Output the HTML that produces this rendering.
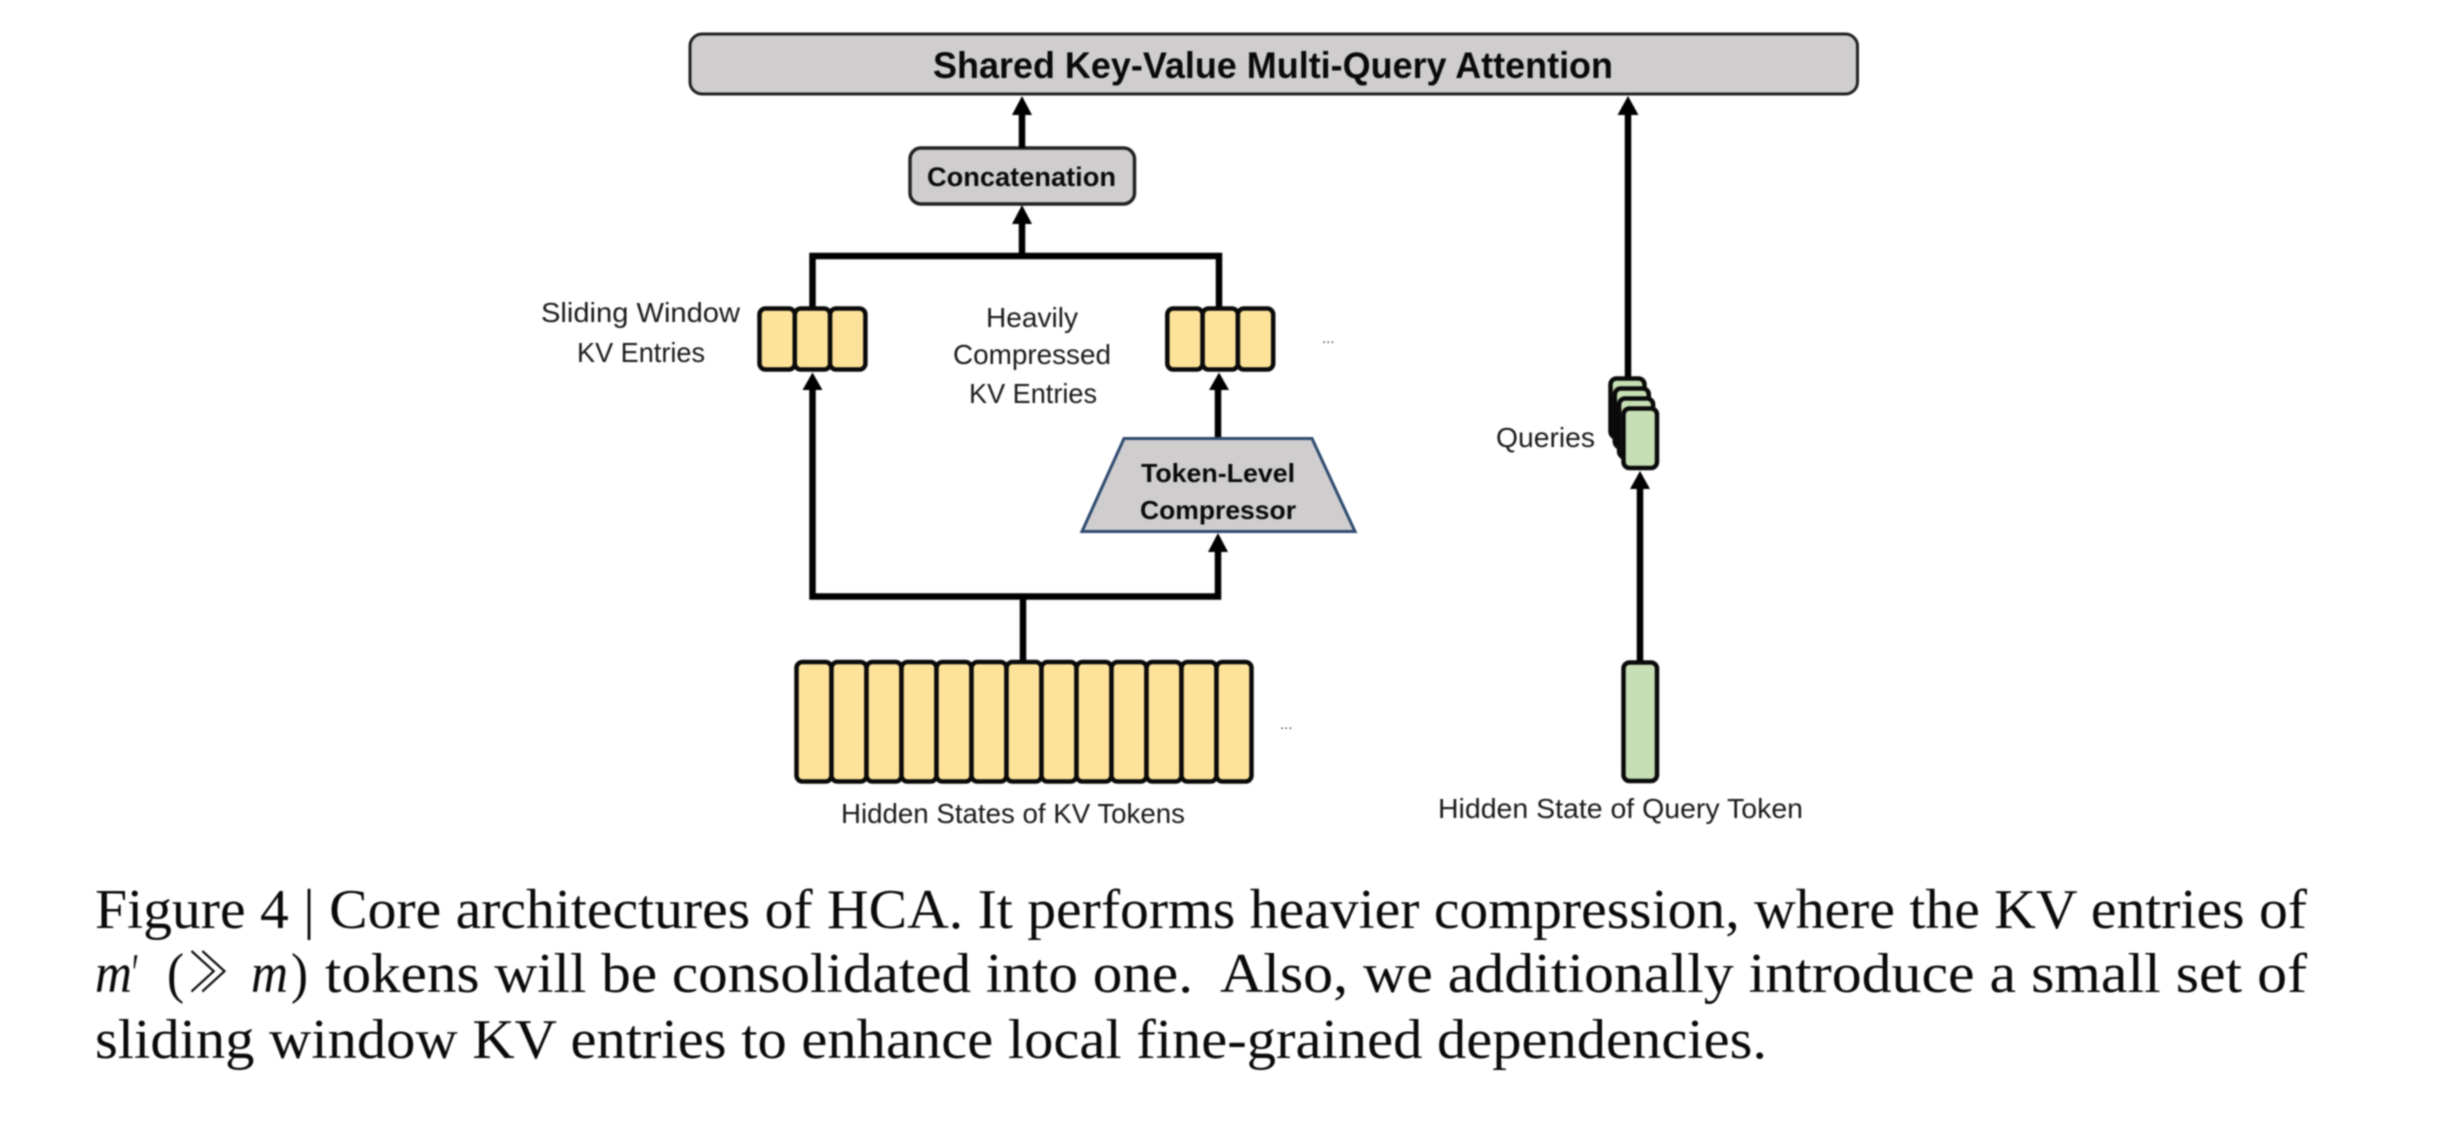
<!DOCTYPE html>
<html>
<head>
<meta charset="utf-8">
<style>
html,body{margin:0;padding:0;background:#fff;width:2446px;height:1132px;overflow:hidden}
svg{display:block;filter:blur(0.7px)}
.s{font-family:"Liberation Sans",sans-serif;fill:#1a1a1a;font-size:28px}
.b{font-family:"Liberation Sans",sans-serif;font-weight:bold;fill:#0a0a0a}
.c{font-family:"Liberation Serif",serif;fill:#0a0a0a;font-size:56px}
.y{fill:#fde39a;stroke:#0a0a0a;stroke-width:4.5}
.g{fill:#c6dfb4;stroke:#0a0a0a;stroke-width:4.5}
.l{fill:none;stroke:#000;stroke-width:6.5}
</style>
</head>
<body>
<svg width="2446" height="1132" viewBox="0 0 2446 1132" xmlns="http://www.w3.org/2000/svg">
<rect width="2446" height="1132" fill="#fff"/>

<!-- top box -->
<rect x="690" y="34" width="1167.5" height="60" rx="12" fill="#cfcdce" stroke="#222" stroke-width="3"/>
<text class="b" x="933" y="78" font-size="37" textLength="680" lengthAdjust="spacingAndGlyphs">Shared Key-Value Multi-Query Attention</text>

<!-- concat -->
<rect x="910" y="148" width="224.5" height="56" rx="11" fill="#cfcdce" stroke="#222" stroke-width="3.5"/>
<text class="b" x="927" y="186" font-size="27" textLength="189" lengthAdjust="spacingAndGlyphs">Concatenation</text>

<!-- connectors -->
<path class="l" d="M1022 148V110"/>
<polygon points="1022,96 1032,115 1012,115" fill="#000"/>
<path class="l" d="M1022 256V220"/>
<polygon points="1022,205 1032,224 1012,224" fill="#000"/>
<path class="l" d="M812.5 310V256H1219V310"/>

<path class="l" d="M812.5 385V596.5H1218V545"/>
<polygon points="812.5,372.5 822.5,390 802.5,390" fill="#000"/>
<polygon points="1218,533 1228,552 1208,552" fill="#000"/>
<path class="l" d="M1023 596.5V662"/>
<path class="l" d="M1218 385V440"/>
<polygon points="1219,372.5 1229,390 1209,390" fill="#000"/>

<!-- sliding window entries -->
<rect class="y" x="759.5" y="308.5" width="35.3" height="61" rx="6"/>
<rect class="y" x="794.8" y="308.5" width="35.3" height="61" rx="6"/>
<rect class="y" x="830.1" y="308.5" width="35.3" height="61" rx="6"/>

<!-- compressed entries -->
<rect class="y" x="1167.3" y="308.5" width="35.3" height="61" rx="6"/>
<rect class="y" x="1202.6" y="308.5" width="35.3" height="61" rx="6"/>
<rect class="y" x="1237.9" y="308.5" width="35.3" height="61" rx="6"/>
<text x="1322" y="343" font-family="Liberation Sans,sans-serif" font-size="15" fill="#444">...</text>

<!-- labels -->
<text class="s" x="541" y="322" textLength="199" lengthAdjust="spacingAndGlyphs">Sliding Window</text>
<text class="s" x="577" y="362" textLength="128" lengthAdjust="spacingAndGlyphs">KV Entries</text>
<text class="s" x="986" y="327" textLength="92" lengthAdjust="spacingAndGlyphs">Heavily</text>
<text class="s" x="953" y="364" textLength="158" lengthAdjust="spacingAndGlyphs">Compressed</text>
<text class="s" x="969" y="403" textLength="128" lengthAdjust="spacingAndGlyphs">KV Entries</text>

<!-- trapezoid -->
<polygon points="1124,438.5 1312,438.5 1355,531.5 1082,531.5" fill="#cfcdce" stroke="#2f4b70" stroke-width="3"/>
<text class="b" x="1141" y="482" font-size="26" textLength="154" lengthAdjust="spacingAndGlyphs">Token-Level</text>
<text class="b" x="1140" y="519" font-size="26" textLength="156" lengthAdjust="spacingAndGlyphs">Compressor</text>

<!-- token row -->
<rect class="y" x="796.5" y="662" width="35" height="119.5" rx="6"/>
<rect class="y" x="831.5" y="662" width="35" height="119.5" rx="6"/>
<rect class="y" x="866.5" y="662" width="35" height="119.5" rx="6"/>
<rect class="y" x="901.5" y="662" width="35" height="119.5" rx="6"/>
<rect class="y" x="936.5" y="662" width="35" height="119.5" rx="6"/>
<rect class="y" x="971.5" y="662" width="35" height="119.5" rx="6"/>
<rect class="y" x="1006.5" y="662" width="35" height="119.5" rx="6"/>
<rect class="y" x="1041.5" y="662" width="35" height="119.5" rx="6"/>
<rect class="y" x="1076.5" y="662" width="35" height="119.5" rx="6"/>
<rect class="y" x="1111.5" y="662" width="35" height="119.5" rx="6"/>
<rect class="y" x="1146.5" y="662" width="35" height="119.5" rx="6"/>
<rect class="y" x="1181.5" y="662" width="35" height="119.5" rx="6"/>
<rect class="y" x="1216.5" y="662" width="35" height="119.5" rx="6"/>
<text x="1280" y="729" font-family="Liberation Sans,sans-serif" font-size="15" fill="#444">...</text>
<text class="s" x="841" y="823" textLength="344" lengthAdjust="spacingAndGlyphs">Hidden States of KV Tokens</text>

<!-- query side -->
<path class="l" d="M1628 378V108" stroke-width="5.5"/>
<polygon points="1628,96 1638.5,115 1617.5,115" fill="#000"/>
<rect class="g" x="1610.5" y="378.5" width="34" height="59" rx="6"/>
<rect class="g" x="1614.8" y="388.5" width="34" height="59" rx="6"/>
<rect class="g" x="1619.1" y="398.5" width="34" height="59" rx="6"/>
<rect class="g" x="1623.5" y="408.5" width="33.5" height="59.5" rx="6"/>
<text class="s" x="1496" y="447" textLength="99" lengthAdjust="spacingAndGlyphs">Queries</text>

<path class="l" d="M1640 662V485" stroke-width="5.5"/>
<polygon points="1640,471 1650,489 1630,489" fill="#000"/>
<rect class="g" x="1623.5" y="662.5" width="33.5" height="118.5" rx="6"/>
<text class="s" x="1438" y="818" textLength="365" lengthAdjust="spacingAndGlyphs">Hidden State of Query Token</text>

<!-- caption -->
<text class="c" x="95" y="928" textLength="2212" lengthAdjust="spacingAndGlyphs">Figure 4 | Core architectures of HCA. It performs heavier compression, where the KV entries of</text>
<text class="c" x="95" y="992" font-style="italic" textLength="37" lengthAdjust="spacingAndGlyphs">m</text>
<text class="c" x="132" y="992" textLength="7" lengthAdjust="spacingAndGlyphs" font-size="50">′</text>
<text class="c" x="167" y="992" textLength="17" lengthAdjust="spacingAndGlyphs">(</text>
<text x="187" y="992" font-family="Liberation Serif,Noto Serif CJK SC,serif" font-size="56" fill="#0a0a0a" textLength="43" lengthAdjust="spacingAndGlyphs">≫</text>
<text class="c" x="251" y="992" font-style="italic" textLength="37" lengthAdjust="spacingAndGlyphs">m</text>
<text class="c" x="291" y="992" textLength="17" lengthAdjust="spacingAndGlyphs">)</text>
<text class="c" x="325" y="992" textLength="868" lengthAdjust="spacingAndGlyphs">tokens will be consolidated into one.</text>
<text class="c" x="1220" y="992" textLength="1087" lengthAdjust="spacingAndGlyphs">Also, we additionally introduce a small set of</text>
<text class="c" x="95" y="1058" textLength="1672" lengthAdjust="spacingAndGlyphs">sliding window KV entries to enhance local fine-grained dependencies.</text>
</svg>
</body>
</html>
